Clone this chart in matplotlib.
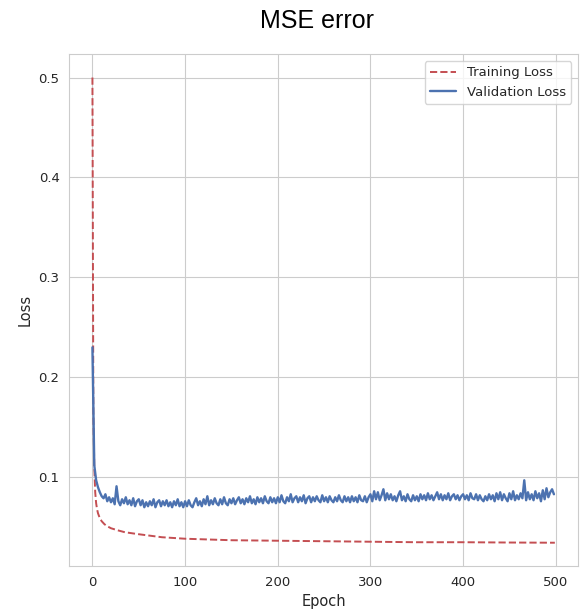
import matplotlib
matplotlib.use("Agg")
import matplotlib.pyplot as plt
import numpy as np
import seaborn as sns

# training loss (at a few epochs)
train_epochs = [0, 1, 2, 3, 4, 5, 6, 8, 10, 13, 16, 20, 27, 35, 50, 75, 100,
                150, 200, 250, 300, 350, 400, 450, 499]
train_loss = [0.500, 0.165, 0.110, 0.085, 0.074, 0.068, 0.064, 0.059, 0.056,
              0.053, 0.051, 0.049, 0.047, 0.045, 0.043, 0.040, 0.0385,
              0.037, 0.0365, 0.036, 0.0355, 0.035, 0.035, 0.0347, 0.0345]

# validation loss, every 2 epochs
val_epochs = np.arange(0, 500, 2)
val_loss = [
    0.230, 0.112, 0.097, 0.090, 0.085, 0.081, 0.079, 0.083, 0.076, 0.080,
    0.075, 0.079, 0.073, 0.091, 0.076, 0.072, 0.078, 0.074, 0.080, 0.073,
    0.077, 0.072, 0.079, 0.071, 0.076, 0.078, 0.072, 0.077, 0.070, 0.075,
    0.071, 0.076, 0.072, 0.078, 0.070, 0.075, 0.077, 0.071, 0.076, 0.072,
    0.077, 0.071, 0.075, 0.070, 0.076, 0.072, 0.078, 0.071, 0.075, 0.070,
    0.076, 0.071, 0.077, 0.072, 0.070, 0.075, 0.079, 0.072, 0.076, 0.071,
    0.078, 0.073, 0.081, 0.072, 0.077, 0.073, 0.079, 0.074, 0.072, 0.078,
    0.073, 0.080, 0.074, 0.072, 0.078, 0.074, 0.079, 0.073, 0.077, 0.080,
    0.074, 0.078, 0.073, 0.079, 0.075, 0.081, 0.074, 0.078, 0.073, 0.080,
    0.075, 0.079, 0.074, 0.081, 0.076, 0.074, 0.080, 0.075, 0.079, 0.074,
    0.080, 0.075, 0.082, 0.076, 0.074, 0.080, 0.076, 0.083, 0.075, 0.079,
    0.081, 0.075, 0.080, 0.076, 0.082, 0.074, 0.079, 0.081, 0.075, 0.080,
    0.076, 0.081, 0.077, 0.075, 0.082, 0.076, 0.080, 0.075, 0.081, 0.077,
    0.075, 0.080, 0.076, 0.082, 0.077, 0.075, 0.081, 0.076, 0.080, 0.075,
    0.081, 0.076, 0.080, 0.075, 0.082, 0.077, 0.076, 0.081, 0.075, 0.080,
    0.083, 0.076, 0.086, 0.078, 0.085, 0.077, 0.082, 0.088, 0.077, 0.084,
    0.078, 0.083, 0.077, 0.081, 0.076, 0.082, 0.086, 0.077, 0.081, 0.076,
    0.083, 0.078, 0.076, 0.082, 0.077, 0.081, 0.076, 0.083, 0.078, 0.082,
    0.077, 0.084, 0.078, 0.082, 0.077, 0.081, 0.085, 0.078, 0.083, 0.077,
    0.082, 0.078, 0.084, 0.077, 0.081, 0.083, 0.078, 0.082, 0.077, 0.081,
    0.083, 0.078, 0.082, 0.077, 0.084, 0.079, 0.078, 0.083, 0.077, 0.082,
    0.078, 0.076, 0.081, 0.077, 0.083, 0.078, 0.082, 0.076, 0.084, 0.078,
    0.085, 0.077, 0.083, 0.079, 0.076, 0.084, 0.078, 0.086, 0.077, 0.082,
    0.078, 0.084, 0.079, 0.097, 0.077, 0.085, 0.078, 0.083, 0.077, 0.086,
    0.079, 0.084, 0.076, 0.087, 0.078, 0.089, 0.080, 0.085, 0.088, 0.083,
]

sns.set_style("whitegrid")
plt.rcParams['font.family'] = ['DejaVu Sans']

fig = plt.figure(figsize=(5.8, 6.14), dpi=100)
ax = fig.add_axes([0.1195, 0.0782, 0.877, 0.8334])

ax.plot(train_epochs, train_loss, color="#c44e52", linestyle="--", lw=1.4, label="Training Loss")
ax.plot(val_epochs, val_loss, color="#4c72b0", lw=1.7, label="Validation Loss")

ax.set_xlabel("Epoch", fontsize=10.5, color=".15")
ax.set_ylabel("Loss", fontsize=10.5, color=".15")
ax.tick_params(labelsize=9.5, colors=".15")
ax.set_xticks([0, 100, 200, 300, 400, 500])
ax.set_yticks([0.1, 0.2, 0.3, 0.4, 0.5])
ax.legend(loc="upper right", fontsize=9.5)

fig.text(0.547, 0.966, "MSE error", ha="center", va="center",
         fontsize=18, family="Liberation Sans", color="black")

fig.savefig("out.png", dpi=100)
